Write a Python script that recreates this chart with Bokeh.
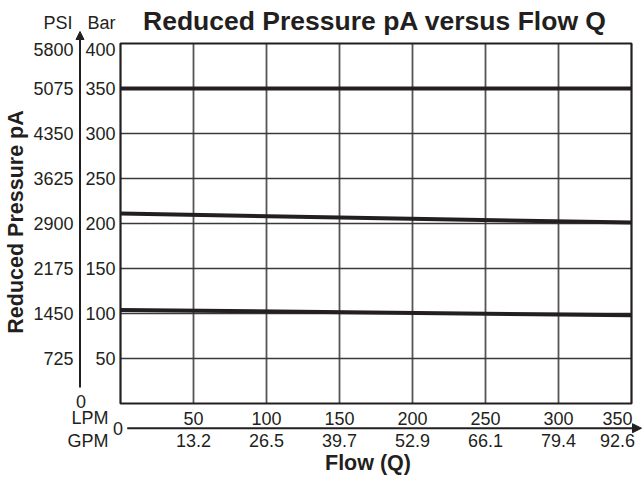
import math
from bokeh.plotting import figure
from bokeh.models import Range1d, Label, Arrow, NormalHead
from bokeh.core.properties import value
from bokeh.embed import file_html
from bokeh.resources import INLINE

# ---------------- data ----------------
flow_lpm = [0, 350]                 # flow Q, LPM
pa_350 = [350, 350]                 # reduced pressure pA, bar
pa_200 = [211, 201]
pa_100 = [104, 98]

lpm_ticks = [50, 100, 150, 200, 250, 300, 350]
gpm_labels = ["13.2", "26.5", "39.7", "52.9", "66.1", "79.4", "92.6"]
bar_ticks = [50, 100, 150, 200, 250, 300, 350, 400]
psi_ticks = [725, 1450, 2175, 2900, 3625, 4350, 5075, 5800]
PSI_PER_BAR = 5800 / 400

# ---------------- layout (pixels) ----------------
W, H = 642, 481
L, R, T, B = 120, 631, 43, 403          # chart box in canvas pixels
X_MAX, Y_MAX = 350, 400
kx = (R - L) / X_MAX
ky = (B - T) / Y_MAX


def X(px):
    return (px - L) / kx


def Y(py):
    return (B - py) / ky


FONT = "Liberation Sans"
INK = "#231f20"
TICK = "18px"

p = figure(width=W, height=H,
           x_range=Range1d(X(0), X(W)), y_range=Range1d(Y(H), Y(0)),
           x_axis_location=None, y_axis_location=None,
           output_backend="svg", toolbar_location=None, min_border=0,
           background_fill_color="white", border_fill_color="white")
p.grid.visible = False
p.outline_line_color = None
p.title.visible = False

# grid lines (inside the chart box)
p.segment(x0=lpm_ticks[:-1], y0=0, x1=lpm_ticks[:-1], y1=Y_MAX,
          line_color="#555555", line_width=1.8)
p.segment(x0=0, y0=bar_ticks[:-1], x1=X_MAX, y1=bar_ticks[:-1],
          line_color="#3a3a3a", line_width=1.6)

# chart box
p.quad(left=0, right=X_MAX, bottom=0, top=Y_MAX, fill_color=None,
       line_color=INK, line_width=2.2)

# data curves
for ys in (pa_350, pa_200, pa_100):
    p.line(flow_lpm, ys, line_color=INK, line_width=4)

# tick labels
tick_style = dict(text_font=value(FONT), text_font_size=TICK, text_color=INK,
                  text_baseline="middle")
edge_shift = [0] * (len(bar_ticks) - 1) + [6]      # top labels sit just below the box edge
p.text(x=X(115), y=bar_ticks, text=[str(v) for v in bar_ticks],
       text_align="right", y_offset=edge_shift, **tick_style)
p.text(x=X(73), y=[v / PSI_PER_BAR for v in psi_ticks], text=[str(v) for v in psi_ticks],
       text_align="right", y_offset=edge_shift, **tick_style)

last_shift = [0] * (len(lpm_ticks) - 1) + [-14]    # last labels pulled inside
p.text(x=lpm_ticks, y=Y(417.5), text=[str(v) for v in lpm_ticks],
       text_align="center", x_offset=last_shift, **tick_style)
p.text(x=lpm_ticks, y=Y(440), text=gpm_labels,
       text_align="center", x_offset=last_shift, **tick_style)


def lab(text, px, py, align="right", size=TICK, bold=False, angle=0.0):
    p.add_layout(Label(x=X(px), y=Y(py), text=text, text_align=align,
                       text_baseline="middle", text_font=FONT, text_font_size=size,
                       text_color=INK, text_font_style="bold" if bold else "normal",
                       angle=angle))


lab("Reduced Pressure pA versus Flow Q", 374.5, 20, align="center", size="26.5px", bold=True)
lab("Reduced Pressure pA", 15, 221.5, align="center", size="21.5px", bold=True,
    angle=math.pi / 2)
lab("Flow (Q)", 367.5, 462, align="center", size="21.5px", bold=True)
lab("PSI", 72, 22)
lab("Bar", 115, 22)
lab("0", 80.5, 400.5, align="center")
lab("0", 122.5, 428.3)
lab("LPM", 108, 417.5)
lab("GPM", 108, 440)

# axis arrows
p.add_layout(Arrow(x_start=X(79.5), y_start=Y(387), x_end=X(79.5), y_end=Y(31),
                   end=NormalHead(size=8, fill_color=INK, line_color=INK, line_width=1),
                   line_width=2, line_color=INK))
p.add_layout(Arrow(x_start=X(126.7), y_start=Y(427.7), x_end=X(641), y_end=Y(427.7),
                   end=NormalHead(size=9, fill_color=INK, line_color=INK, line_width=1),
                   line_width=2, line_color=INK))

open("out.html", "w").write(file_html(p, INLINE))
